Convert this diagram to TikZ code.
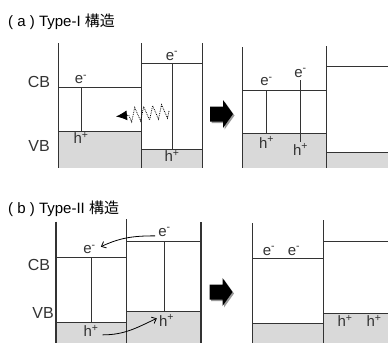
\documentclass[tikz,border=0pt]{standalone}
\usepackage{fontspec}
\setmainfont{Liberation Sans}
\newfontfamily\cjk{Noto Sans CJK JP}
\usetikzlibrary{arrows.meta,decorations.pathmorphing}
\definecolor{bandgray}{HTML}{D9D9D9}
\definecolor{ink}{HTML}{333333}
\begin{document}
\begin{tikzpicture}[x=1pt,y=-1pt,
  wall/.style={line width=1.3pt, draw=ink},
  level/.style={line width=1pt, draw=ink},
  link/.style={line width=0.8pt, draw=ink},
  fillband/.style={fill=bandgray, draw=none},
  lbl/.style={font=\fontsize{15}{15}\selectfont, text=ink, anchor=base, inner sep=1pt},
  axislbl/.style={font=\fontsize{16}{16}\selectfont, text=ink, anchor=base, inner sep=1pt},
  ttl/.style={font=\fontsize{15}{15}\selectfont, text=black, anchor=base west, inner sep=0pt},
  blockarrow/.pic={
    \fill[black!40] (1.5,-6) -- (14.5,-6) -- (14.5,-12.5) -- (24.5,1.5) -- (14.5,15.5) -- (14.5,9) -- (1.5,9) -- cycle;
    \fill[black] (0,-7.5) -- (13,-7.5) -- (13,-14) -- (23,0) -- (13,14) -- (13,7.5) -- (0,7.5) -- cycle;
  },
  curv/.style={-{Straight Barb[length=4pt,width=7pt]}, line width=0.8pt, draw=black},
  wave/.style={-{Latex[length=11pt,width=10pt]}, densely dotted, line width=0.8pt, draw=black,
    decorate, decoration={zigzag, segment length=9pt, amplitude=7pt, post length=9pt}}
]
\useasboundingbox (0,0) rectangle (388,343);

% ---------------- (a) Type-I ----------------
\node[ttl] (ta) at (8,26.5) {( a ) Type-I {\cjk 構造}};
\node[axislbl] (cba) at (39,87.3) {CB};
\node[axislbl] (vba) at (39,151.7) {VB};

% left diagram fills
\fill[fillband] (58.3,131) rectangle (141.7,168);
\fill[fillband] (141.7,149.3) rectangle (202.7,168);
% levels
\draw[level] (58.3,87.7) -- (141.7,87.7);
\draw[level] (58.3,131) -- (141.7,131);
\draw[level] (141.7,63) -- (202.7,63);
\draw[level] (141.7,149.3) -- (202.7,149.3);
% walls
\draw[wall] (58.3,43) -- (58.3,168);
\draw[wall] (141.7,43) -- (141.7,168);
\draw[wall] (202.7,43) -- (202.7,168);
% transitions
\draw[link] (81.5,87.7) -- (81.5,131);
\draw[link] (172.3,63) -- (172.3,149.3);
\node[lbl] (ea1) at (81,83.5) {e\textsuperscript{-}};
\node[lbl] (ha1) at (81,143.3) {h\textsuperscript{+}};
\node[lbl] (ea2) at (172,60) {e\textsuperscript{-}};
\node[lbl] (ha2) at (172,161.7) {h\textsuperscript{+}};
\coordinate (wstart) at (169,111);
\coordinate (wend) at (116,116.5);
\draw[wave] (wstart) -- (wend);

% block arrow (a)
\coordinate (arA) at (210,114);
\pic at (arA) {blockarrow};

% right diagram fills
\fill[fillband] (242.3,133.3) rectangle (326.7,168);
\fill[fillband] (326.7,152.3) rectangle (388,168);
\draw[level] (242.3,90) -- (326.7,90);
\draw[level] (242.3,133.3) -- (326.7,133.3);
\draw[level] (326.7,66) -- (388,66);
\draw[level] (326.7,152.3) -- (388,152.3);
\draw[wall] (242.3,47) -- (242.3,168);
\draw[wall] (326.7,46) -- (326.7,168);
\draw[link] (266.7,90) -- (266.7,133.3);
\draw[link] (300.7,80) -- (300.7,142);
\node[lbl] (ea3) at (266.5,85.5) {e\textsuperscript{-}};
\node[lbl] (ea4) at (300.5,77) {e\textsuperscript{-}};
\node[lbl] (ha3) at (266.5,148) {h\textsuperscript{+}};
\node[lbl] (ha4) at (300.5,155) {h\textsuperscript{+}};

% ---------------- (b) Type-II ----------------
\node[ttl] (tb) at (8,213) {( b ) Type-II {\cjk 構造}};
\node[axislbl] (cbb) at (39,270) {CB};
\node[axislbl] (vbb) at (43,318.3) {VB};

\fill[fillband] (56,322.3) rectangle (126.7,343);
\fill[fillband] (126.7,311.7) rectangle (201,343);
\draw[level] (56,257.3) -- (126.7,257.3);
\draw[level] (56,322.3) -- (126.7,322.3);
\draw[level] (126.7,241) -- (201,241);
\draw[level] (126.7,311.7) -- (201,311.7);
\draw[wall] (56,221.7) -- (56,343);
\draw[wall] (126.7,219) -- (126.7,343);
\draw[wall] (201,222) -- (201,343);
\draw[link] (91,257.3) -- (91,322.3);
\draw[link] (164.3,241) -- (164.3,311.7);
\node[lbl] (eb1) at (89.5,253.3) {e\textsuperscript{-}};
\node[lbl] (hb1) at (91,336.5) {h\textsuperscript{+}};
\node[lbl] (eb2) at (164.5,236) {e\textsuperscript{-}};
\node[lbl] (hb2) at (166.5,326) {h\textsuperscript{+}};
\draw[curv] ([xshift=-2pt,yshift=-4pt]eb2.west) to[out=180,in=25] ([xshift=4pt,yshift=-3pt]eb1.north east);
\draw[curv] ([xshift=3pt,yshift=-4pt]hb1.east) to[out=0,in=205] ([xshift=-1pt,yshift=2pt]hb2.west);

% block arrow (b)
\coordinate (arB) at (209.5,292);
\pic at (arB) {blockarrow};

\fill[fillband] (252.7,323.3) rectangle (323.3,343);
\fill[fillband] (323.3,313.3) rectangle (388,343);
\draw[level] (252.7,258.3) -- (323.3,258.3);
\draw[level] (252.7,323.3) -- (323.3,323.3);
\draw[level] (323.3,241.3) -- (388,241.3);
\draw[level] (323.3,313.3) -- (388,313.3);
\draw[wall] (252.7,223) -- (252.7,343);
\draw[wall] (323.3,220) -- (323.3,343);
\node[lbl] (eb3) at (269,255) {e\textsuperscript{-}};
\node[lbl] (eb4) at (294,255) {e\textsuperscript{-}};
\node[lbl] (hb3) at (345,326.5) {h\textsuperscript{+}};
\node[lbl] (hb4) at (374,326.5) {h\textsuperscript{+}};
\end{tikzpicture}
\end{document}
